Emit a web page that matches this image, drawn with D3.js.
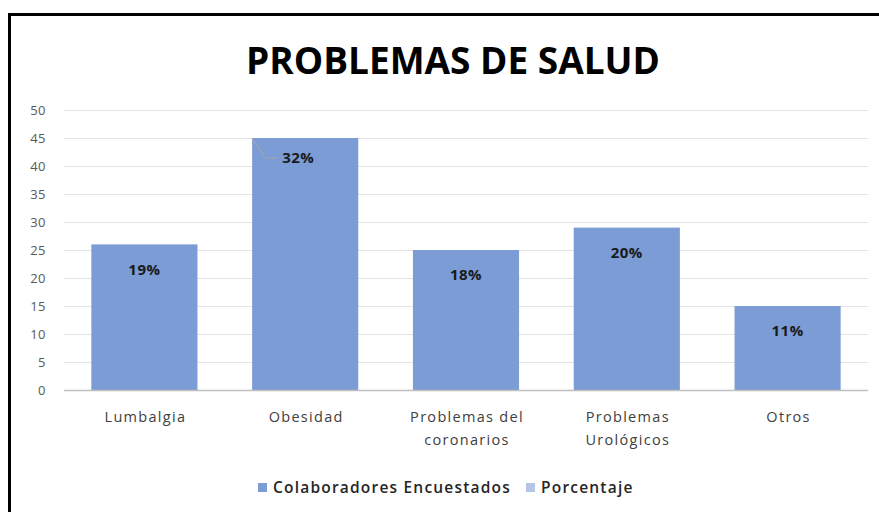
<!DOCTYPE html>
<html>
<head>
<meta charset="utf-8">
<script src="https://cdn.jsdelivr.net/npm/d3@7"></script>
<style>
  body { margin: 0; background: #fff; }
  svg { display: block; font-family: "Open Sans", sans-serif; }
</style>
</head>
<body>
<svg></svg>
<script>
// chart data
let categories = [['Lumbalgia'], ['Obesidad'], ['Problemas del', 'coronarios'], ['Problemas', 'Urológicos'], ['Otros']];
let encuestados = [26, 45, 25, 29, 15];
let porcentaje = ['19%', '32%', '18%', '20%', '11%'];
let yTicks = [0, 5, 10, 15, 20, 25, 30, 35, 40, 45, 50];
let legendNames = ['Colaboradores Encuestados', 'Porcentaje'];

// canvas
let canvas = { width: 879, height: 512 };
let plot = { left: 64, right: 868, top: 110, bottom: 390 };

let svg = d3.select('svg')
  .attr('width', canvas.width)
  .attr('height', canvas.height);

// outer frame
svg.append('rect')
  .attr('x', 9.5).attr('y', 14.5)
  .attr('width', 900).attr('height', 600)
  .attr('fill', '#fff')
  .attr('stroke', '#000')
  .attr('stroke-width', 3);

// title
svg.append('text')
  .attr('x', 453).attr('y', 74)
  .attr('text-anchor', 'middle')
  .style('font-size', '37px')
  .style('font-weight', 700)
  .attr('fill', '#000')
  .text('PROBLEMAS DE SALUD');

// scales
let xScale = d3.scaleBand()
  .domain(d3.range(categories.length))
  .range([plot.left, plot.right])
  .paddingInner(0.34)
  .paddingOuter(0.17);

let yScale = d3.scaleLinear()
  .domain([0, 50])
  .range([plot.bottom, plot.top]);

// gridlines
svg.append('g')
  .selectAll('line')
  .data(yTicks.filter(d => d > 0))
  .enter()
  .append('line')
  .attr('x1', plot.left).attr('x2', plot.right)
  .attr('y1', d => yScale(d) + 0.5).attr('y2', d => yScale(d) + 0.5)
  .attr('stroke', '#e3e3e3')
  .attr('stroke-width', 1);

// y axis labels
let yAxis = d3.axisLeft(yScale).tickValues(yTicks).tickSize(0).tickPadding(0);
let yg = svg.append('g')
  .attr('transform', 'translate(46,0)')
  .call(yAxis);
yg.select('.domain').remove();
yg.selectAll('text')
  .attr('fill', '#595959')
  .style('font-size', '13px')
  .style('letter-spacing', '0.5px')
  .style('font-family', '"Open Sans", sans-serif');

// bars
svg.append('g')
  .selectAll('rect')
  .data(encuestados)
  .enter()
  .append('rect')
  .attr('x', (d, i) => xScale(i))
  .attr('y', d => yScale(d))
  .attr('width', xScale.bandwidth())
  .attr('height', d => yScale(0) - yScale(d))
  .attr('fill', '#7b9cd5');

// x axis line
svg.append('line')
  .attr('x1', plot.left).attr('x2', plot.right)
  .attr('y1', plot.bottom + 0.5).attr('y2', plot.bottom + 0.5)
  .attr('stroke', '#bfbfbf')
  .attr('stroke-width', 1.5);

// data labels
svg.append('g')
  .selectAll('text')
  .data(porcentaje)
  .enter()
  .append('text')
  .attr('x', (d, i) => i === 1 ? xScale(i) + 30 : xScale(i) + xScale.bandwidth() / 2)
  .attr('y', (d, i) => yScale(encuestados[i]) + (i === 1 ? 20 : 25))
  .attr('dy', '0.35em')
  .attr('text-anchor', (d, i) => i === 1 ? 'start' : 'middle')
  .style('font-size', '15px')
  .style('font-weight', 700)
  .style('letter-spacing', '0.5px')
  .attr('fill', '#1a1a1a')
  .text(d => d);

// leader line on the Obesidad label
let lx = xScale(1), ly = yScale(encuestados[1]);
svg.append('path')
  .attr('d', `M${lx},${ly} L${lx + 13},${ly + 20} L${lx + 25},${ly + 20}`)
  .attr('fill', 'none')
  .attr('stroke', '#a6a6a6')
  .attr('stroke-width', 1);

// category labels
let catG = svg.append('g')
  .selectAll('text')
  .data(categories)
  .enter()
  .append('text')
  .attr('x', (d, i) => xScale(i) + xScale.bandwidth() / 2 + 1)
  .attr('y', 422)
  .attr('text-anchor', 'middle')
  .style('font-size', '14.5px')
  .style('letter-spacing', '1.3px')
  .attr('fill', '#404040');

catG.selectAll('tspan')
  .data(d => d)
  .enter()
  .append('tspan')
  .attr('x', function () { return d3.select(this.parentNode).attr('x'); })
  .attr('dy', (d, i) => i === 0 ? 0 : 23)
  .text(d => d);

// legend
let legendColors = ['#7b9cd5', '#b4c5e7'];
let legendX = [258, 526];
let legend = svg.append('g')
  .selectAll('g')
  .data(legendNames)
  .enter()
  .append('g')
  .attr('transform', (d, i) => 'translate(' + legendX[i] + ',488)');

legend.append('rect')
  .attr('x', 0).attr('y', -5)
  .attr('width', 9).attr('height', 9)
  .attr('fill', (d, i) => legendColors[i]);

legend.append('text')
  .attr('x', 15).attr('y', 0)
  .attr('dy', '0.35em')
  .style('font-size', '15.5px')
  .style('font-weight', 600)
  .style('letter-spacing', '1.2px')
  .attr('fill', '#262626')
  .text(d => d);
</script>
</body>
</html>
